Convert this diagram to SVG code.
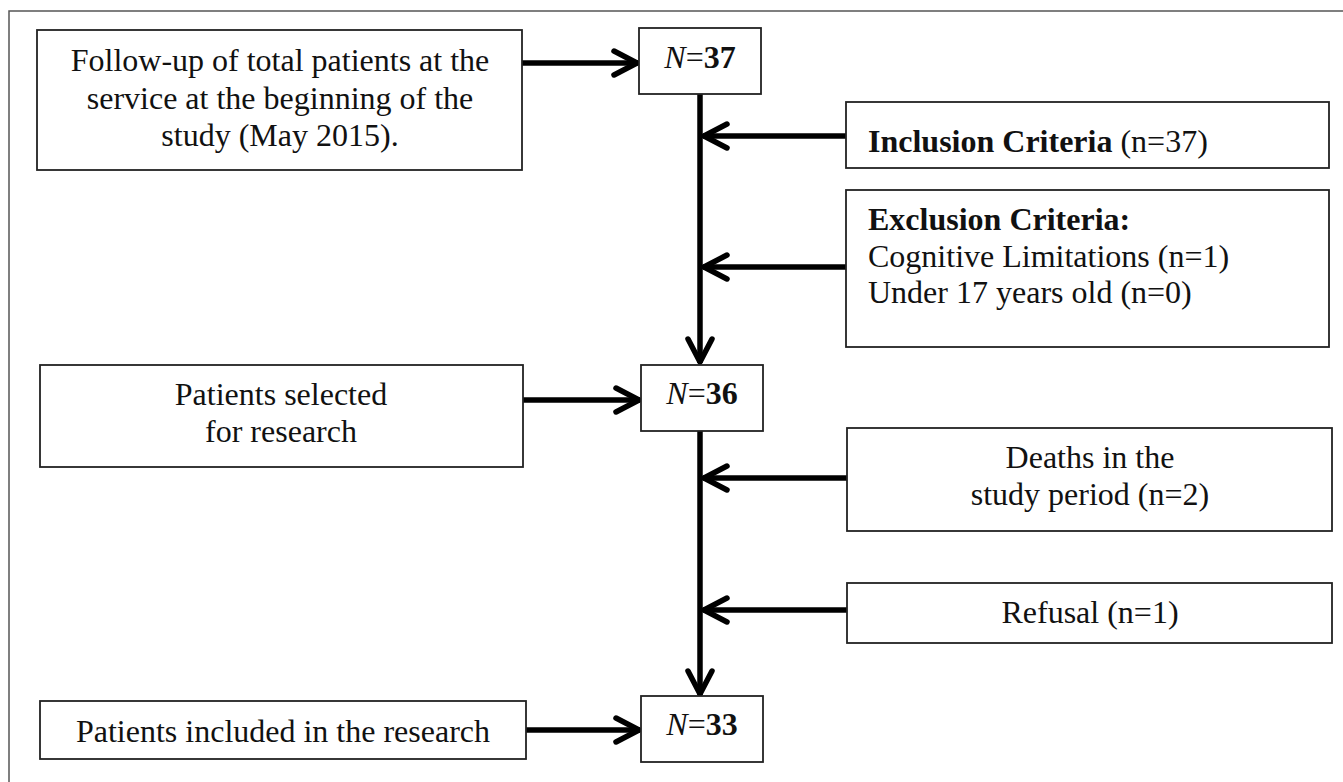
<svg xmlns="http://www.w3.org/2000/svg" width="1343" height="782" viewBox="0 0 1343 782">
<style>
.box{fill:#fff;stroke:#222;stroke-width:1.8}
.t{font-family:"Liberation Serif","Times New Roman",serif;font-size:32px;fill:#111}
.c{text-anchor:middle}
.b{font-weight:bold}
.i{font-style:italic}
.ln{fill:none;stroke:#000;stroke-width:5.5}
</style>
<defs>
<marker id="chev" markerUnits="userSpaceOnUse" orient="auto" overflow="visible" refX="0" refY="0" markerWidth="40" markerHeight="40">
<path d="M-24,-12 L-1,0 L-24,12" fill="none" stroke="#000" stroke-width="5.5" stroke-linecap="round" stroke-linejoin="round"/>
</marker>
</defs>
<rect width="1343" height="782" fill="#fff"/>
<path d="M9,782 V11 H1343" fill="none" stroke="#555" stroke-width="1.5"/>
<g id="connectors">
<path class="ln" d="M522,63 H638" marker-end="url(#chev)"/>
<path class="ln" d="M700,94 V363" marker-end="url(#chev)"/>
<path class="ln" d="M846,136 H703" marker-end="url(#chev)"/>
<path class="ln" d="M846,267 H703" marker-end="url(#chev)"/>
<path class="ln" d="M523,400 H640" marker-end="url(#chev)"/>
<path class="ln" d="M700,431 V695" marker-end="url(#chev)"/>
<path class="ln" d="M847,478 H703" marker-end="url(#chev)"/>
<path class="ln" d="M847,610 H703" marker-end="url(#chev)"/>
<path class="ln" d="M526,730 H640" marker-end="url(#chev)"/>
</g>
<g id="followup">
<rect class="box" x="37" y="30" width="485" height="140"/>
<text class="t c" x="280" y="71">Follow-up of total patients at the</text>
<text class="t c" x="280" y="109">service at the beginning of the</text>
<text class="t c" x="280" y="146">study (May 2015).</text>
</g>
<g id="n37">
<rect class="box" x="639" y="28" width="122" height="66"/>
<text class="t c" x="700" y="68"><tspan class="i">N</tspan>=<tspan class="b">37</tspan></text>
</g>
<g id="inclusion">
<rect class="box" x="846" y="102" width="483" height="66"/>
<text class="t" x="868" y="152"><tspan class="b">Inclusion Criteria</tspan> (n=37)</text>
</g>
<g id="exclusion">
<rect class="box" x="846" y="190" width="483" height="157"/>
<text class="t b" x="868" y="230">Exclusion Criteria:</text>
<text class="t" x="868" y="267">Cognitive Limitations (n=1)</text>
<text class="t" x="868" y="303">Under 17 years old (n=0)</text>
</g>
<g id="selected">
<rect class="box" x="40" y="365" width="483" height="102"/>
<text class="t c" x="281" y="405">Patients selected</text>
<text class="t c" x="281" y="442">for research</text>
</g>
<g id="n36">
<rect class="box" x="641" y="365" width="122" height="66"/>
<text class="t c" x="702" y="404"><tspan class="i">N</tspan>=<tspan class="b">36</tspan></text>
</g>
<g id="deaths">
<rect class="box" x="847" y="428" width="485" height="103"/>
<text class="t c" x="1090" y="468">Deaths in the</text>
<text class="t c" x="1090" y="505">study period (n=2)</text>
</g>
<g id="refusal">
<rect class="box" x="847" y="583" width="485" height="60"/>
<text class="t c" x="1090" y="623">Refusal (n=1)</text>
</g>
<g id="included">
<rect class="box" x="40" y="701" width="486" height="58"/>
<text class="t c" x="283" y="742">Patients included in the research</text>
</g>
<g id="n33">
<rect class="box" x="641" y="696" width="122" height="66"/>
<text class="t c" x="702" y="735"><tspan class="i">N</tspan>=<tspan class="b">33</tspan></text>
</g>
</svg>
